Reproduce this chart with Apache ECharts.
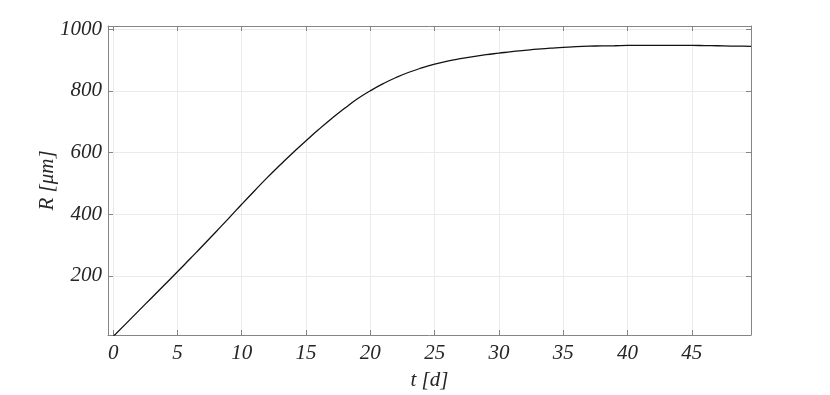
<!DOCTYPE html>
<html>
<head>
<meta charset="utf-8">
<script src="https://cdn.jsdelivr.net/npm/echarts@6/dist/echarts.min.js"></script>
<style>
  html, body { margin: 0; padding: 0; background: #fff; }
  #chart { width: 830px; height: 395px; }
</style>
</head>
<body>
<div id="chart"></div>
<script>
// time [d]
var tValues = [0, 1, 2, 3, 4, 5, 6, 7, 8, 9, 10, 11, 12, 13, 14, 15, 16, 17, 18, 19,
  20, 21, 22, 23, 24, 25, 26, 27, 28, 29, 30, 31, 32, 33, 34, 35, 36, 37, 38, 39,
  40, 41, 42, 43, 44, 45, 46, 47, 48, 49, 49.6];
// radius [um]
var rValues = [3, 45, 87, 129, 171, 213, 256, 299, 343, 387, 432, 476, 519, 560, 600, 638,
  675, 710, 743, 774, 800, 823, 843, 860, 874, 886, 896, 904, 911, 917, 922, 927, 931,
  935, 938, 941, 943, 944.5, 945.5, 946, 947, 947, 947, 947, 947, 947, 946.5, 946, 945,
  944.5, 944];
var xTicks = [0, 5, 10, 15, 20, 25, 30, 35, 40, 45];
var yTicks = [200, 400, 600, 800, 1000];

var font = '"Liberation Serif", "Times New Roman", serif';
var axisColor = '#858585';
var textColor = '#262626';

var points = tValues.map(function (t, i) { return [t, rValues[i]]; });

var chart = echarts.init(document.getElementById('chart'));

function xAxisOf(pos, showLabel) {
  return {
    type: 'value',
    position: pos,
    min: -0.4,
    max: 49.6,
    name: showLabel ? 't [d]' : '',
    nameLocation: 'middle',
    nameGap: 35,
    nameMoveOverlap: false,
    nameTextStyle: { fontFamily: font, fontStyle: 'italic', fontSize: 21, color: textColor },
    axisLine: { show: true, onZero: false, lineStyle: { color: axisColor, width: 1 } },
    axisTick: { show: true, inside: true, length: 5, customValues: xTicks, lineStyle: { color: axisColor } },
    axisLabel: {
      show: showLabel, customValues: xTicks, margin: 8,
      formatter: function (v) { return String(v); },
      fontFamily: font, fontStyle: 'italic', fontSize: 21, color: textColor
    },
    splitLine: { show: showLabel, lineStyle: { color: '#ebebeb', width: 1 } }
  };
}

function yAxisOf(pos, showLabel) {
  return {
    type: 'value',
    position: pos,
    min: 8,
    max: 1010,
    name: showLabel ? 'R [\u03bcm]' : '',
    nameLocation: 'middle',
    nameGap: 50,
    nameMoveOverlap: false,
    nameTextStyle: { fontFamily: font, fontStyle: 'italic', fontSize: 21, color: textColor },
    axisLine: { show: true, onZero: false, lineStyle: { color: axisColor, width: 1 } },
    axisTick: { show: true, inside: true, length: 5, customValues: yTicks, lineStyle: { color: axisColor } },
    axisLabel: {
      show: showLabel, customValues: yTicks, margin: 6,
      formatter: function (v) { return String(v); },
      fontFamily: font, fontStyle: 'italic', fontSize: 21, color: textColor
    },
    splitLine: { show: showLabel, lineStyle: { color: '#ebebeb', width: 1 } }
  };
}

chart.setOption({
  backgroundColor: '#ffffff',
  animation: false,
  grid: { left: 108, right: 79, top: 26, bottom: 60, containLabel: false, outerBoundsMode: 'none' },
  xAxis: [xAxisOf('bottom', true), xAxisOf('top', false)],
  yAxis: [yAxisOf('left', true), yAxisOf('right', false)],
  series: [{
    type: 'line',
    xAxisIndex: 0,
    yAxisIndex: 0,
    data: points,
    smooth: 0.5,
    showSymbol: false,
    clip: true,
    lineStyle: { color: '#111111', width: 1.3 }
  }]
});
</script>
</body>
</html>
